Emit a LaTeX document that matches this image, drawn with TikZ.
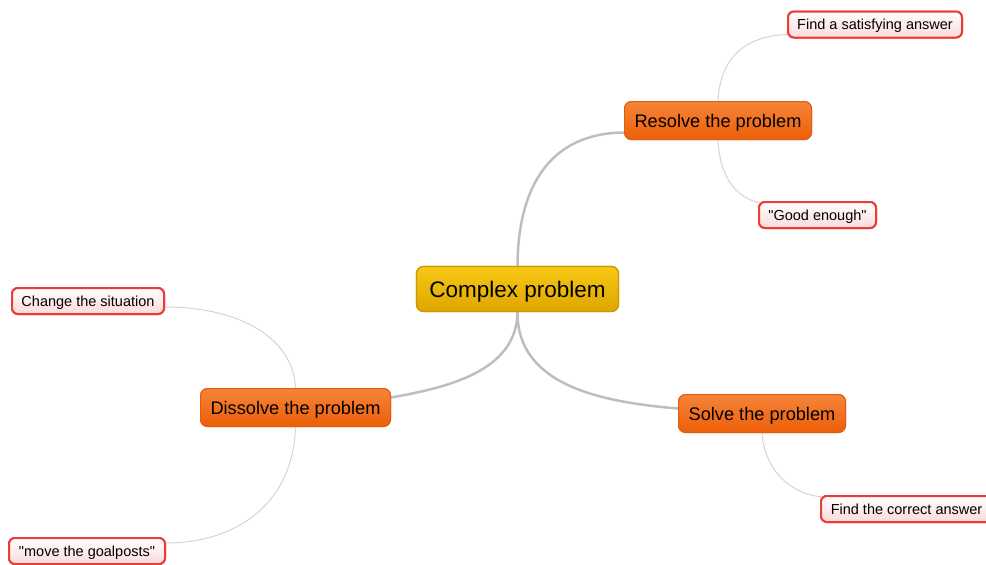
\documentclass[tikz,border=0pt]{standalone}
\usepackage{fontspec}
\setmainfont{Liberation Sans}[Ligatures=TeXOff]
\begin{document}
\begin{tikzpicture}[x=1pt,y=-1pt,
  every node/.style={text=black, inner sep=0pt},
  rootbox/.style={rounded corners=7pt, draw={rgb,255:red,205;green,152;blue,0}, line width=1.2pt,
    top color={rgb,255:red,248;green,200;blue,20}, bottom color={rgb,255:red,222;green,166;blue,0},
    font=\fontsize{22.5}{26}\selectfont, minimum height=45pt, text height=16pt, text depth=0pt},
  branchbox/.style={rounded corners=7pt, draw={rgb,255:red,226;green,94;blue,14}, line width=1pt,
    top color={rgb,255:red,246;green,132;blue,58}, bottom color={rgb,255:red,236;green,94;blue,8},
    font=\fontsize{18.2}{22}\selectfont, minimum height=38pt, text height=13pt, text depth=0pt},
  leafbox/.style={rounded corners=6pt, draw={rgb,255:red,236;green,60;blue,56}, line width=2pt,
    top color=white, bottom color={rgb,255:red,251;green,218;blue,218},
    font=\fontsize{14.5}{17}\selectfont, minimum height=26pt, text height=10.5pt, text depth=0pt},
  trunk/.style={draw={rgb,255:red,190;green,190;blue,190}, line width=2.5pt},
  twig/.style={draw={rgb,255:red,212;green,212;blue,212}, line width=1pt}]

\clip (0,0) rectangle (986,565);

% nodes
\node[rootbox, minimum width=202pt] (cp) at (517.5,289) {Complex problem};
\node[branchbox, minimum width=187pt] (res) at (718,120.5) {Resolve the problem};
\node[branchbox, minimum width=167pt] (sol) at (762,413.5) {Solve the problem};
\node[branchbox, minimum width=190pt] (dis) at (295.5,407.5) {Dissolve the problem};
\node[leafbox, minimum width=174pt] (fsa) at (875,24.5) {Find a satisfying answer};
\node[leafbox, minimum width=117pt] (good) at (817.5,215) {"Good enough"};
\node[leafbox, minimum width=171pt] (fca) at (906.5,509) {Find the correct answer};
\node[leafbox, minimum width=152pt] (chg) at (88,301) {Change the situation};
\node[leafbox, minimum width=156pt] (goal) at (87,551) {"move the goalposts"};

% main branches
\path[trunk] (cp.north) .. controls (518,180) and (555,133) .. ([yshift=-12pt]res.west);
\path[trunk] (cp.south) .. controls (517,372) and (445,388) .. ([yshift=10pt]dis.east);
\path[trunk] (cp.south) .. controls (517,385) and (600,402) .. ([yshift=5pt]sol.west);

% sub-branches
\path[twig] (res.north) .. controls (720,58) and (745,36) .. ([yshift=-10pt]fsa.west);
\path[twig] (res.south) .. controls (720,180) and (738,198) .. ([xshift=2pt,yshift=-2pt]good.north west);
\path[twig] (sol.south) .. controls (765,472) and (792,494) .. ([xshift=2pt,yshift=-2pt]fca.north west);
\path[twig] (dis.north) .. controls (293,335) and (235,307) .. ([yshift=-6pt]chg.east);
\path[twig] (dis.south) .. controls (293,505) and (235,543) .. ([yshift=8pt]goal.east);

% boxes drawn again on top of the connector ends
\node[rootbox, minimum width=202pt] at (cp) {Complex problem};
\node[branchbox, minimum width=187pt] at (res) {Resolve the problem};
\node[branchbox, minimum width=167pt] at (sol) {Solve the problem};
\node[branchbox, minimum width=190pt] at (dis) {Dissolve the problem};
\node[leafbox, minimum width=174pt] at (fsa) {Find a satisfying answer};
\node[leafbox, minimum width=117pt] at (good) {"Good enough"};
\node[leafbox, minimum width=171pt] at (fca) {Find the correct answer};
\node[leafbox, minimum width=152pt] at (chg) {Change the situation};
\node[leafbox, minimum width=156pt] at (goal) {"move the goalposts"};
\end{tikzpicture}
\end{document}
